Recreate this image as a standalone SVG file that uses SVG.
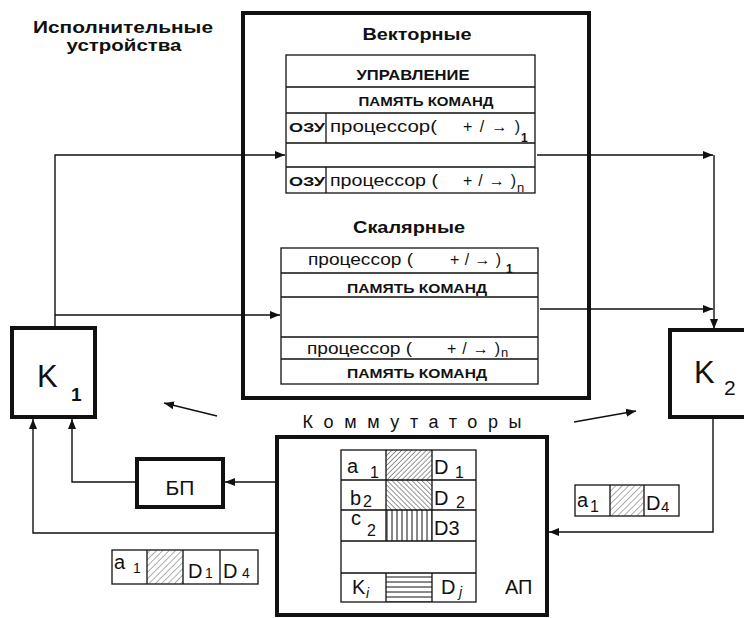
<svg xmlns="http://www.w3.org/2000/svg" width="744" height="618" viewBox="0 0 744 618">
<style>
text{font-family:"Liberation Sans",Arial,sans-serif;fill:#111}
.thick{fill:none;stroke:#111;stroke-width:4}
.thin{fill:none;stroke:#111;stroke-width:1.3}
.conn{fill:none;stroke:#111;stroke-width:1.4}
.cell{fill:#fff;stroke:#111;stroke-width:1.3}
.tb{font-weight:bold}
.big{font-size:20px}
.sub{font-size:16px}
</style>
<defs>
<marker id="ah" markerUnits="userSpaceOnUse" markerWidth="11" markerHeight="9" refX="10" refY="4.5" orient="auto">
<path d="M0,0.5 L10,4.5 L0,8.5 Z" fill="#111"/>
</marker>
<pattern id="hs" width="3.5" height="3.5" patternUnits="userSpaceOnUse" patternTransform="rotate(45)">
<line x1="0" y1="0" x2="0" y2="3.5" stroke="#111" stroke-width="0.9"/>
</pattern>
<pattern id="hb" width="3.5" height="3.5" patternUnits="userSpaceOnUse" patternTransform="rotate(-45)">
<line x1="0" y1="0" x2="0" y2="3.5" stroke="#111" stroke-width="0.9"/>
</pattern>
<pattern id="hsl" width="4.5" height="4.5" patternUnits="userSpaceOnUse" patternTransform="rotate(45)">
<line x1="0" y1="0" x2="0" y2="4.5" stroke="#333" stroke-width="0.8"/>
</pattern>
<pattern id="hv" width="5" height="5" patternUnits="userSpaceOnUse">
<line x1="2" y1="0" x2="2" y2="5" stroke="#111" stroke-width="1"/>
</pattern>
<pattern id="hh" width="5" height="5" patternUnits="userSpaceOnUse">
<line x1="0" y1="2" x2="5" y2="2" stroke="#111" stroke-width="1"/>
</pattern>
</defs>
<rect width="744" height="618" fill="#fff"/>

<g id="connectors">
<path class="conn" d="M55,328 V155 H285" marker-end="url(#ah)"/>
<path class="conn" d="M55,315 H280" marker-end="url(#ah)"/>
<path class="conn" d="M537,155 H713" marker-end="url(#ah)"/>
<path class="conn" d="M714,155 V329" marker-end="url(#ah)"/>
<path class="conn" d="M540,309 H713" marker-end="url(#ah)"/>
<path class="conn" d="M277,482 H225" marker-end="url(#ah)"/>
<path class="conn" d="M137,482 H72 V419" marker-end="url(#ah)"/>
<path class="conn" d="M277,533 H33 V419" marker-end="url(#ah)"/>
<path class="conn" d="M713,419 V532 H549" marker-end="url(#ah)"/>
<path class="conn" d="M217,416 L164,403" marker-end="url(#ah)"/>
<path class="conn" d="M574,422 L636,411" marker-end="url(#ah)"/>
</g>

<g id="executors-label">
<text class="tb" x="123" y="33" font-size="17" text-anchor="middle" textLength="180" lengthAdjust="spacingAndGlyphs">Исполнительные</text>
<text class="tb" x="124" y="51" font-size="17" text-anchor="middle" textLength="115" lengthAdjust="spacingAndGlyphs">устройства</text>
</g>

<g id="executors">
<rect class="thick" x="243" y="13" width="346" height="385"/>
</g>

<g id="vector">
<text class="tb" x="417" y="40" font-size="17" text-anchor="middle" textLength="109" lengthAdjust="spacingAndGlyphs">Векторные</text>
<rect class="cell" x="286" y="55" width="249" height="138"/>
<path class="thin" d="M286,87 H535 M286,113 H535 M286,143 H535 M286,167 H535 M326,113 V143 M326,167 V193"/>
<text class="tb" x="413" y="80" font-size="14" text-anchor="middle" textLength="113" lengthAdjust="spacingAndGlyphs">УПРАВЛЕНИЕ</text>
<text class="tb" x="426" y="106" font-size="13" text-anchor="middle" textLength="135" lengthAdjust="spacingAndGlyphs">ПАМЯТЬ КОМАНД</text>
<text class="tb" x="289" y="132" font-size="13" textLength="36" lengthAdjust="spacingAndGlyphs">ОЗУ</text>
<text font-size="16"><tspan x="330" y="132" textLength="107" lengthAdjust="spacingAndGlyphs">процессор(</tspan><tspan x="463" y="132" textLength="57" lengthAdjust="spacing">+/→)</tspan><tspan x="521" y="142" font-size="12" class="tb">1</tspan></text>
<text class="tb" x="289" y="186" font-size="13" textLength="36" lengthAdjust="spacingAndGlyphs">ОЗУ</text>
<text font-size="16"><tspan x="330" y="186" textLength="108" lengthAdjust="spacingAndGlyphs">процессор (</tspan><tspan x="463" y="186" textLength="53" lengthAdjust="spacing">+/→)</tspan><tspan x="517" y="192" font-size="13">n</tspan></text>
</g>

<g id="scalar">
<text class="tb" x="409" y="233" font-size="17" text-anchor="middle" textLength="112" lengthAdjust="spacingAndGlyphs">Скалярные</text>
<rect class="cell" x="281" y="248" width="257" height="136"/>
<path class="thin" d="M281,273 H538 M281,297 H538 M281,337 H538 M281,359 H538"/>
<text font-size="16"><tspan x="308" y="265" textLength="105" lengthAdjust="spacingAndGlyphs">процессор (</tspan><tspan x="450" y="265" textLength="51" lengthAdjust="spacing">+/→)</tspan><tspan x="506" y="273" font-size="12" class="tb">1</tspan></text>
<text class="tb" x="417" y="293" font-size="13" text-anchor="middle" textLength="140" lengthAdjust="spacingAndGlyphs">ПАМЯТЬ КОМАНД</text>
<text font-size="16"><tspan x="307" y="354" textLength="105" lengthAdjust="spacingAndGlyphs">процессор (</tspan><tspan x="447" y="354" textLength="53" lengthAdjust="spacing">+/→)</tspan><tspan x="501" y="357" font-size="13">n</tspan></text>
<text class="tb" x="417" y="378" font-size="13" text-anchor="middle" textLength="140" lengthAdjust="spacingAndGlyphs">ПАМЯТЬ КОМАНД</text>
</g>

<g id="K1">
<rect class="thick" x="12" y="328" width="83" height="89" fill="#fff"/>
<text x="37" y="387" font-size="31">K</text>
<text class="tb" x="71" y="401" font-size="19">1</text>
</g>

<g id="K2">
<rect class="thick" x="670" y="330" width="100" height="87" fill="#fff"/>
<text x="694" y="383" font-size="31">K</text>
<text x="724" y="395" font-size="21">2</text>
</g>

<g id="BP">
<rect class="thick" x="137" y="459" width="86" height="48" fill="#fff"/>
<text x="180" y="495" font-size="21" text-anchor="middle">БП</text>
</g>

<g id="switch-label">
<text x="412" y="428" font-size="18" text-anchor="middle" textLength="219" lengthAdjust="spacing">Коммутаторы</text>
</g>

<g id="AP">
<rect class="thick" x="277" y="437" width="270" height="178" fill="#fff"/>
<rect class="cell" x="341" y="450" width="135" height="152"/>
<rect x="386" y="450" width="46" height="30" fill="url(#hs)"/>
<rect x="386" y="480" width="46" height="30" fill="url(#hb)"/>
<rect x="386" y="510" width="46" height="31" fill="url(#hv)"/>
<rect x="386" y="573" width="46" height="29" fill="url(#hh)"/>
<path class="thin" d="M341,480 H476 M341,510 H476 M341,541 H476 M341,573 H476 M386,450 V541 M432,450 V541 M386,573 V602 M432,573 V602"/>
<text class="big" x="347" y="473">a</text><text class="sub" x="370" y="478">1</text>
<text class="big" x="434" y="474">D</text><text class="sub" x="455" y="478">1</text>
<text class="big" x="350" y="505">b</text><text class="sub" x="363" y="507">2</text>
<text class="big" x="434" y="505">D</text><text class="sub" x="456" y="508">2</text>
<text class="big" x="351" y="525">c</text><text class="sub" x="367" y="536">2</text>
<text class="big" x="434" y="535">D3</text>
<text class="big" x="352" y="594">K</text><text x="366" y="598" font-size="14" font-style="italic">i</text>
<text class="big" x="441" y="594">D</text><text x="459" y="597" font-size="14" font-style="italic">j</text>
<text x="505" y="594" font-size="20">АП</text>
</g>

<g id="packet-left">
<rect class="cell" x="112" y="550" width="146" height="34"/>
<rect x="147" y="550" width="36" height="34" fill="url(#hsl)"/>
<path class="thin" d="M147,550 V584 M183,550 V584 M220,550 V584"/>
<text x="114" y="569" font-size="20">a</text><text x="133" y="573" font-size="14">1</text>
<text x="188" y="578" font-size="20">D</text><text x="205" y="578" font-size="14">1</text>
<text x="223" y="578" font-size="20">D</text><text x="242" y="578" font-size="14">4</text>
</g>

<g id="packet-right">
<rect class="cell" x="575" y="485" width="104" height="31"/>
<rect x="610" y="485" width="34" height="31" fill="url(#hsl)"/>
<path class="thin" d="M610,485 V516 M644,485 V516"/>
<text x="577" y="507" font-size="20">a</text><text x="590" y="512" font-size="16">1</text>
<text x="646" y="510" font-size="20">D</text><text x="661" y="512" font-size="15">4</text>
</g>
</svg>
